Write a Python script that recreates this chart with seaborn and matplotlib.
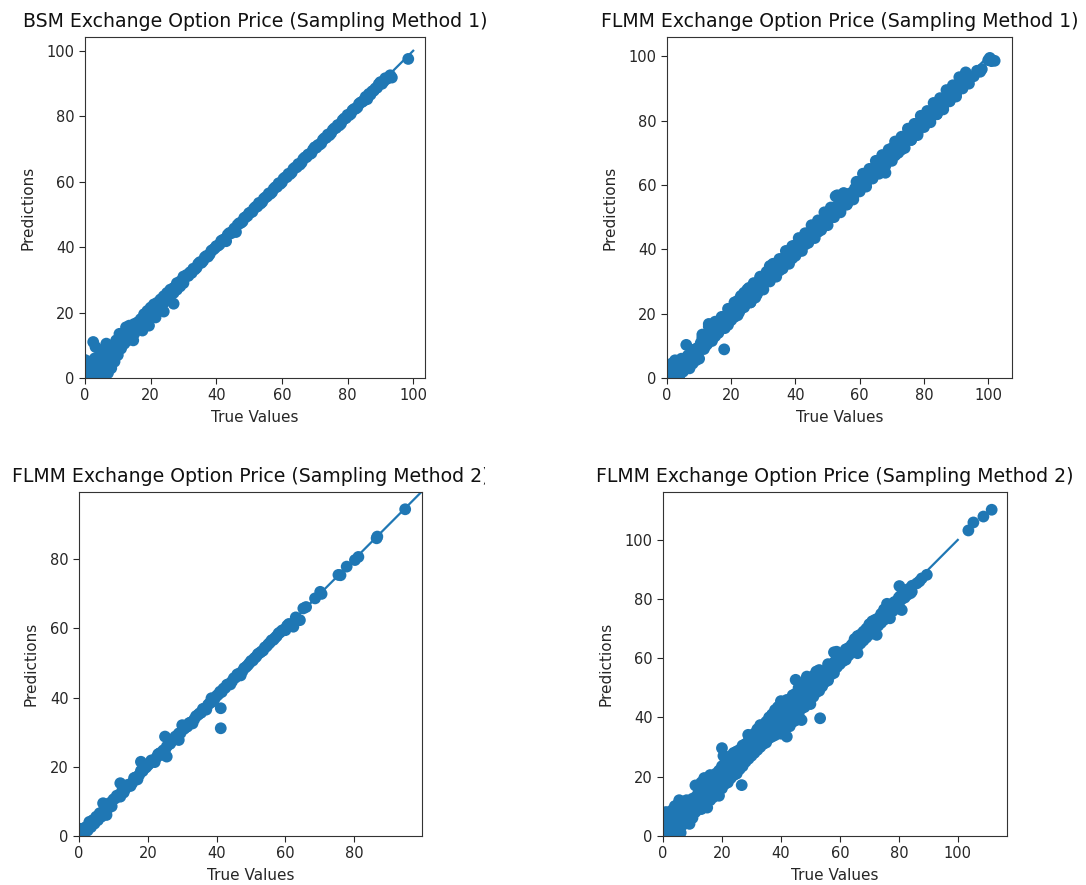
import matplotlib
matplotlib.use("Agg")
import matplotlib.pyplot as plt
from matplotlib.transforms import Bbox, TransformedBbox
import seaborn as sns

# ---------------------------------------------------------------------------
# Test-set true values and model predictions for each pricing model
# ---------------------------------------------------------------------------

# BSM exchange option, sampling method 1
bsm1_true = [
    0, 0, 0, 0, 0.6, 1, 1, 1.2, 1.8, 2, 2, 2.5, 3, 3, 3, 3.2, 4, 4, 4, 4.5,
    5, 5, 5, 5.5, 6, 6, 6, 6.5, 7, 7, 7, 7.5, 8, 8, 8.5, 9, 9, 9.5, 10, 10,
    10.5, 11, 11, 12, 12, 12.5, 13, 13, 13.5, 14, 14, 15, 15, 14.7, 16, 16, 17, 17,
    17.5, 18, 18, 19, 19, 19.5, 20, 20, 21, 21, 21.5, 22, 22, 23, 23, 24, 24,
    24, 25, 25, 26, 26, 27, 27, 27, 28, 28, 29, 29, 30, 30,
    10.5, 11.5, 12.5, 13.5, 14.5, 15.5, 16.5, 17.5, 18.5, 19.5, 20.5, 21.5,
    22.5, 23.5, 24.5, 25.5, 26.5, 27.5, 28.5, 29.5, 30.5,
    31, 31.5, 32, 32.5, 33, 33.5, 34, 34.5, 35, 35.5, 36, 36.5, 37, 37.5, 38,
    38.5, 39, 39.5, 40, 40.5, 41, 41.5, 42, 42.5, 43, 43.5, 44, 44.5, 45, 45.5,
    46, 46.5, 47, 47.5, 48, 48.5, 49, 49.5, 50, 50.5, 51, 51.5, 52, 52.5, 53,
    53.5, 54, 54.5, 55, 55.5, 56, 56.5, 57, 57.5, 58, 58.5, 59, 59.5, 60, 60.5,
    61, 61.5, 62, 62.5, 63, 63.5, 64, 64.5, 65, 65.5, 66, 66.5, 67, 67.5, 68,
    68.5, 69, 69.5, 70, 70.5, 71, 71.5, 72, 72.5, 73, 73.5, 74, 74.5, 75, 75.5,
    76, 76.5, 77, 77.5, 78, 78.5, 79, 79.5, 80, 80.5, 81, 81.5, 82, 82.5, 83,
    83.5, 84, 84.5, 85, 85.5, 86, 86.5, 87, 87.5, 88, 88.5, 89, 89.5, 90, 90.5,
    91, 91.5, 92,
    93, 93.5, 98.5,
]
bsm1_pred = [
    0, 2, 4, 5.5, 1, 0, 3, 5, 2, 0.5, 4, 11, 1.5, 3.5, 6, 9.5, 0, 2.5, 5, 8.5,
    1, 4, 6.5, 3, 0.5, 2.5, 5.5, 10.5, 1.5, 4.5, 7.5, 9.5, 3, 6, 9, 5, 8, 11.5, 7, 10,
    13.5, 9, 12, 10.5, 13, 15.5, 11.5, 14, 16, 12.5, 15, 13.5, 16.5, 11.5, 15, 17, 15.5, 18,
    14.5, 17, 19.5, 18, 20.5, 16, 19, 21.5, 20, 22.5, 18.5, 21, 23, 22, 24, 23, 25,
    20.3, 24.5, 26, 25, 27, 26, 27.5, 22.7, 27, 29, 28, 29.5, 29, 31,
    11, 11.8, 12.9, 13.7, 14.9, 15.8, 16.9, 17.7, 18.9, 19.8, 20.9, 21.7,
    22.8, 23.8, 24.9, 25.7, 26.8, 27.8, 28.9, 29.7, 30.8,
    31.5, 31.2, 32.3, 32.1, 33.4, 33.2, 33.7, 34.9, 35.4, 35.2, 35.8, 36.9, 37.3, 37.1, 37.8,
    38.9, 39.2, 39.6, 40.3, 40.4, 40.8, 41.9, 42.2, 42.4, 41.8, 43.8, 44.3, 44.2, 44.8, 45.7,
    44.6, 46.8, 47.3, 47.4, 47.8, 48.9, 49.2, 49.5, 50.4, 50.6, 50.8, 51.8, 52.3, 52.4, 53.5,
    53.3, 53.8, 54.8, 55.2, 55.5, 56.4, 56.3, 56.8, 57.8, 58.3, 58.4, 59.5, 59.3, 59.8, 60.9,
    61.3, 61.4, 62.4, 62.3, 62.8, 63.9, 64.3, 64.4, 65.4, 65.2, 65.8, 66.9, 67.4, 67.5, 68.3,
    68.4, 68.7, 69.8, 70.5, 70.4, 71.2, 71.3, 71.7, 72.8, 73.3, 73.4, 74.4, 74.2, 74.8, 75.8,
    76.3, 76.4, 77.3, 77.2, 77.7, 78.8, 79.3, 79.4, 80.4, 80.3, 80.7, 81.8, 82.2, 82.3, 82.7,
    83.8, 84.2, 84.4, 84.8, 85.9, 85.2, 86.8, 86.6, 87.6, 87.8, 88.5, 88.7, 89.8, 90.4, 89.9,
    90.6, 91.6, 91.4,
    92.5, 91.8, 97.5,
]

# FLMM exchange option, sampling method 1
flmm1_true = [
    0, 0, 0.5, 1, 1, 1.5, 2, 2, 2.5, 3, 3, 3.5, 4, 4, 4.5, 5, 5, 6, 6, 6.5,
    6.5, 7, 7, 7.5, 8, 8, 8.5, 9, 9, 9.5, 10, 10,
    11, 11.5, 12, 12.5, 13, 13, 13.5, 14, 14.5, 15, 15.5, 16, 16.5, 17, 17.8, 18,
    18.5, 19, 19.5, 20, 20.5, 21, 21.5, 22, 22.5, 23, 23.5, 24, 24.5, 25, 25.5, 26,
    26.5, 27, 27.5, 28, 28.5, 29, 29.5, 30,
    31, 32, 33, 34, 35, 36, 37, 38, 39, 40, 41, 42, 43, 44, 45, 46, 47, 48,
    49, 50, 51, 52, 53, 54, 55, 56, 57, 58, 59, 60, 61, 62, 63, 64, 65, 66,
    67, 68, 69, 70, 71, 72, 73, 74, 75, 76, 77, 78, 79, 80, 81, 82, 83, 84,
    85, 86, 87, 88, 89, 90, 91, 92, 93, 94,
    52.5, 53.5, 55, 56.5, 57.5,
    95.5, 96.5, 97.5, 98, 100, 101, 102, 100.5,
    0.5, 1.5, 2.5, 3.5, 4.5, 5.5, 6.5, 7.5, 8.5, 9.5, 10.5, 11.5, 12.5, 13.5,
    14.5, 15.5, 16.5, 17.5, 18.5, 19.5, 20.5, 21.5, 22.5, 23.5, 24.5, 25.5,
    26.5, 27.5, 28.5, 29.5, 30.5, 31.5, 32.5, 33.5, 34.5, 35.5, 36.5, 37.5,
    38.5, 39.5, 40.5, 41.5, 42.5, 43.5, 44.5, 45.5, 46.5, 47.5, 48.5, 49.5,
    50.5, 51.5, 52.5, 53.5, 54.5, 55.5, 56.5, 57.5, 58.5, 59.5, 60.5, 61.5,
    62.5, 63.5, 64.5, 65.5, 66.5, 67.5, 68.5, 69.5, 70.5, 71.5, 72.5, 73.5,
    74.5, 75.5, 76.5, 77.5, 78.5, 79.5, 80.5, 81.5, 82.5, 83.5, 84.5, 85.5,
    86.5, 87.5, 88.5, 89.5, 90.5, 91.5, 92.5, 93.5,
]
flmm1_pred = [
    0, 3.5, 1.5, 0.5, 3, 4.5, 1, 3.5, 5.5, 0.5, 2.5, 4.5, 1, 3.5, 6, 2, 5, 3.5, 10.3, 6.5,
    4.5, 3, 7, 5.5, 4.5, 8, 6.5, 5.5, 9, 7.5, 6, 9.5,
    12.5, 9, 13.5, 10.5, 16.8, 11.5, 14, 12, 15.5, 13, 17, 14.5, 16, 18.5, 8.9, 17,
    19.5, 16.5, 21, 18.5, 22, 19, 21.5, 24, 20.5, 25, 22, 26.5, 23, 24.5, 28, 23.5,
    27, 29, 25, 29.5, 27, 31, 28, 29,
    32.5, 34.8, 31.6, 35.2, 33.4, 37.1, 35.5, 38.9, 37.2, 41.3, 39.4, 43.0, 41.5, 45.1, 43.6, 47.2, 45.4, 48.8,
    47.3, 51.2, 49.8, 53.0, 56.8, 52.2, 56.5, 53.9, 57.4, 56.3, 59.5, 59.2, 61.4, 60.6, 64.3, 62.4, 66.0, 64.5,
    69.3, 63.8, 68.5, 71.4, 69.2, 72.8, 71.0, 74.6, 76.2, 74.0, 77.3, 76.2, 80.1, 78.3, 81.6, 80.5, 83.7, 82.0,
    85.8, 84.4, 87.5, 86.2, 89.6, 88.4, 90.8, 90.5, 92.6, 93.2,
    56.5, 55.5, 55, 56.8, 55.5,
    93.8, 95.5, 95.2, 96, 98.8, 98.5, 98.6, 99.5,
    0.8, 1.3, 2.9, 3.1, 4.6, 5.2, 7.0, 7.4, 8.8, 9.3, 10.9, 11.1, 12.6, 13.2,
    15.0, 15.4, 16.8, 17.3, 18.9, 19.1, 20.6, 21.2, 23.0, 23.4, 24.8, 25.3,
    26.9, 27.1, 28.6, 29.2, 31.0, 31.4, 32.8, 33.3, 34.9, 35.1, 36.6, 37.2,
    39.0, 39.4, 40.8, 41.3, 42.9, 43.1, 44.6, 45.2, 47.0, 47.4, 48.8, 49.3,
    50.9, 51.1, 52.6, 53.2, 55.0, 55.4, 56.8, 57.3, 58.9, 59.1, 60.6, 61.2,
    63.0, 63.4, 64.8, 65.3, 66.9, 67.1, 68.6, 69.2, 71.0, 71.4, 72.8, 73.3,
    74.9, 75.1, 76.6, 77.2, 79.0, 79.4, 80.8, 81.3, 82.9, 83.1, 84.6, 85.2,
    87.0, 87.4, 88.8, 89.3, 90.9, 91.1, 92.6, 93.2,
]
# FLMM sampling method 1: points along the upper and lower edge of the band
flmm1_edge_true = [
    11, 13, 15, 17, 19, 21, 23, 25, 27, 29, 31, 33, 35, 37, 39, 41, 43, 45, 47,
    49, 51, 55, 59, 61, 63, 65, 69, 71, 73, 75, 77, 79, 81, 83, 85, 87, 89, 91, 93,
    12, 14, 16, 18, 20, 22, 24, 26, 28, 30, 32, 34, 36, 38, 40, 42, 44, 46, 48,
    50, 52, 54, 56, 58, 60, 62, 64, 66, 68, 70, 72, 74, 76, 78, 80, 82, 84, 86,
    88, 90, 92, 94,
]
flmm1_edge_pred = [
    13.5, 16, 17.5, 19, 21.5, 23.5, 25.5, 27.5, 29.5, 31.5, 33, 35.5, 37, 39.5, 41, 43.5, 45, 47.5, 49,
    51.5, 53, 57.5, 61, 63.5, 65, 67.5, 71, 73.5, 75, 77.5, 79, 81.5, 83, 85.5, 87, 89.5, 91, 93.5, 95,
    10, 11.5, 14, 15.5, 18, 19.5, 22, 23.5, 26, 27.5, 30, 31.5, 34, 35.5, 38, 39.5, 42, 43.5, 46,
    47.5, 50, 51.5, 54, 55.5, 58, 59.5, 62, 63.5, 66, 67.5, 70, 71.5, 74, 75.5, 78, 79.5, 82, 83.5,
    86, 87.5, 90, 91.5,
]

# FLMM exchange option, sampling method 2 (first run)
flmm2a_true = [
    0, 0.5, 1, 1.5, 2, 2.5, 3, 3.5, 4, 4.5, 5, 5.5, 6, 6.5, 7, 7, 7.5, 8, 8.5, 9,
    9.5, 10,
    11, 12, 12, 13, 14, 15, 16, 17, 18, 18, 19, 20, 21, 22, 23, 24, 25, 25,
    25.5, 26, 27, 28, 29, 29, 30, 31, 32, 33, 34, 35, 36, 37, 38, 38.5, 39, 40,
    41, 41.2, 41.2, 42, 43, 44, 45, 46, 47, 48, 49, 50, 51, 52, 53, 54, 55, 56,
    57, 58, 59, 60, 61,
    10.5, 11.5, 12.5, 13.5, 14.5, 15.5, 16.5, 17.5, 18.5, 19.5, 20.5, 21.5,
    22.5, 23.5, 24.5, 25.5, 26.5, 27.5, 28.5, 29.5, 30.5, 31.5, 32.5, 33.5,
    34.5, 35.5, 36.5, 37.5, 38.5, 39.5, 40.5, 41.5, 42.5, 43.5, 44.5, 45.5,
    46.5, 47.5, 48.5, 49.5, 50.5, 51.5, 52.5, 53.5, 54.5, 55.5, 56.5, 57.5,
    58.5, 59.5, 60.5,
    62.3, 63, 64.2, 65.2, 66, 68.6, 70.1, 70.5, 75.4, 76, 77.8, 80.2, 81.2, 86.5,
    86.7, 94.8,
]
flmm2a_pred = [
    0.5, 2, 0.5, 1.5, 2.5, 1.5, 4, 2.5, 4.5, 3.5, 5.5, 4.5, 6.5, 5.5, 9.4, 7, 6.5, 6, 8, 9.5,
    8.5, 10.5,
    11.6, 11.3, 15.2, 12.5, 14.6, 14.4, 16.7, 16.3, 18.8, 21.4, 19.5, 20.4, 21.8, 21.3, 23.6, 23.4, 28.7, 24.8,
    22.9, 26.5, 27.4, 28.7, 27.7, 29.6, 32, 31.4, 32.6, 32.5, 34.6, 35.4, 36.7, 36.5, 38.4, 39.8, 38.9, 40.5,
    41.7, 36.9, 31.1, 42.6, 43.7, 43.8, 45.6, 46.7, 46.4, 48.5, 49.3, 50.6, 51.4, 52.6, 53.3, 54.5, 55.4, 56.6,
    57.3, 58.6, 59.4, 59.5, 61.3,
    10.8, 11.4, 12.9, 13.6, 14.8, 15.3, 16.9, 17.6, 18.7, 19.8, 20.9, 21.7,
    22.6, 23.9, 24.7, 25.8, 26.6, 27.9, 28.8, 29.7, 30.9, 31.6, 32.8, 33.7,
    34.9, 35.6, 36.8, 37.9, 38.7, 39.8, 40.9, 41.6, 42.8, 43.9, 44.7, 45.8,
    46.9, 47.6, 48.8, 49.9, 50.7, 51.8, 52.9, 53.6, 54.8, 55.9, 56.7, 57.8,
    58.9, 59.6, 60.8,
    60.5, 63.2, 62.4, 65.8, 66.2, 68.7, 70.6, 70, 75.5, 75.4, 77.9, 79.8, 80.7, 86.1,
    86.6, 94.5,
]

# FLMM exchange option, sampling method 2 (second run)
flmm2b_true = [
    0, 0, 0, 0, 0.5, 1, 1, 1, 1.5, 2, 2, 2, 2.5, 3, 3, 3, 3.5, 4, 4, 4,
    4.5, 5, 5, 5, 5.5, 6, 6, 6, 6.5, 7, 7, 7, 7.5, 8, 8, 8, 8.5, 9, 9, 9,
    9.5, 10, 10, 10,
    11, 11, 11, 12, 12, 13, 13, 13, 14, 14, 14, 15, 15, 15, 16, 16, 16, 17, 17, 17,
    18, 18, 18, 19, 19, 19, 20, 20, 20, 20, 20.5, 21, 21, 21, 22, 22, 22, 23, 23, 23,
    24, 24, 24, 25, 25, 25, 26, 26, 26, 26.7, 27, 27, 27, 28, 28, 28, 28.9, 29, 29, 29,
    30, 30, 30,
    31, 31, 31, 32, 32, 32, 33, 33, 33, 34, 34, 34, 35, 35, 35, 36, 36, 36, 37, 37, 37,
    38, 38, 38, 39, 39, 39, 40, 40, 40, 40, 41, 41, 41, 42, 42, 42, 42, 43, 43, 43,
    44, 44, 44, 45, 45, 45, 45, 46, 46, 46, 47, 47, 47, 47, 48, 48, 48, 48.8, 49, 49, 49,
    50, 50, 50, 51, 51, 51, 52, 52, 52, 53, 53, 53, 53.3, 54, 54, 54, 55, 55,
    56, 56, 56, 57, 57, 58, 58, 58, 58.9, 59, 59, 60, 60, 61, 61, 62, 62, 63, 63,
    64, 64, 65, 65, 66, 66, 66, 67, 67, 68, 68, 69, 69, 70, 70, 71, 71, 72, 72, 72.5,
    73, 73, 74, 74, 75, 75, 76, 76, 77, 77, 78, 78, 79, 79, 80, 80, 80.2, 81, 81,
    82, 83, 84, 84.4, 86.1, 87, 87.8, 89.5,
    0.5, 1.5, 2.5, 3.5, 4.5, 5.5, 6.5, 7.5, 8.5, 9.5, 10.5, 11.5, 12.5, 13.5,
    14.5, 15.5, 16.5, 17.5, 18.5, 19.5, 20.5, 21.5, 22.5, 23.5, 24.5, 25.5,
    26.5, 27.5, 28.5, 29.5, 30.5, 31.5, 32.5, 33.5, 34.5, 35.5, 36.5, 37.5,
    38.5, 39.5, 40.5, 41.5, 42.5, 43.5, 44.5, 45.5, 46.5, 47.5, 48.5, 49.5,
    50.5, 51.5, 52.5, 53.5, 54.5, 55.5, 56.5, 57.5, 58.5, 59.5, 60.5, 61.5,
    62.5, 63.5, 64.5, 65.5, 66.5, 67.5, 68.5, 69.5, 70.5, 71.5, 72.5, 73.5,
    74.5, 75.5, 76.5, 77.5, 78.5, 79.5, 80.5, 81.5, 82.5, 83.5, 84.5,
    103.6, 105.3, 108.7, 111.5,
]
flmm2b_pred = [
    0, 2.5, 5, 7.5, 1, 0, 4, 8, 2, 1, 5, 6.5, 3, 0, 3.5, 8.5, 6, 1.5, 5, 10,
    3, 2, 7, 10.5, 12, 1, 5.5, 9, 3.5, 4, 8, 11.5, 6, 4.5, 9, 12, 7, 4, 8, 11,
    6, 6, 9.5, 12.5,
    8, 13, 17, 10, 14.5, 9, 12, 18, 11.5, 16, 19.5, 9.5, 14, 18, 12, 17.5, 20.5, 13, 16, 19.5,
    14.5, 18, 21, 13.5, 17, 22, 16, 20, 23.5, 29.6, 27, 17.5, 21.5, 24.5, 18, 22.5, 25, 19.5, 23, 27,
    20.5, 24.5, 28, 21, 25, 28.5, 22.5, 26.5, 29, 17.1, 23.5, 27, 30.5, 25, 28.5, 31, 34.1, 26, 30, 32,
    27, 30.5, 33,
    28, 31.5, 34.5, 29, 32, 36, 30, 33.5, 37.4, 31, 35, 37, 31.5, 35.5, 38.5, 33, 37, 40, 33.5, 37.5, 41,
    34, 39, 42.5, 35, 40, 43.5, 34.5, 38.5, 42, 45.5, 36, 41, 44, 33.5, 38, 42.5, 45.9, 37, 41, 45,
    38.5, 43, 47.5, 39, 44, 48, 52.7, 41, 45.5, 50, 39.1, 43, 47, 51, 43.5, 48, 52, 53.8, 45, 49.5, 52.5,
    44.5, 50, 53, 47, 51.5, 54, 48.5, 52, 55.5, 49, 53.5, 56, 39.7, 50.5, 54, 55.5, 52, 55.5,
    52.5, 56.5, 58, 54.5, 57.5, 55, 58.5, 62, 62.2, 57, 60.5, 58, 61, 59, 61.5, 59.5, 63, 61, 63.5,
    62, 64.5, 62.5, 66.5, 61.7, 64, 67.5, 65, 68, 66, 69, 67, 70, 68, 71.5, 69.5, 72.5, 70, 73, 67.9,
    71, 73.5, 72, 75, 73, 76.5, 74.5, 78.4, 73.5, 77.4, 76, 78.5, 77, 79, 78, 80.5, 84.4, 76.3, 80,
    80.5, 81.5, 82, 82.5, 85.3, 86, 87, 88.2,
    1.5, 2.0, 3.5, 3.0, 5.5, 5.0, 7.5, 7.0, 9.5, 9.0, 11.5, 11.0, 13.5, 13.0,
    15.5, 15.0, 17.5, 17.0, 19.5, 19.0, 21.0, 21.5, 23.0, 23.5, 25.0, 25.5,
    27.0, 27.5, 29.0, 29.5, 31.0, 31.5, 33.0, 33.5, 35.0, 35.5, 37.0, 37.5,
    39.0, 39.5, 41.0, 41.5, 43.0, 43.5, 45.0, 45.5, 47.0, 47.5, 49.0, 49.5,
    51.0, 51.5, 53.0, 53.5, 55.0, 55.5, 57.0, 57.5, 59.0, 59.5, 61.0, 61.5,
    63.0, 63.5, 65.0, 65.5, 67.0, 67.5, 69.0, 69.5, 71.0, 71.5, 73.0, 73.5,
    75.0, 75.5, 77.0, 77.5, 79.0, 79.5, 81.0, 81.5, 83.0, 83.5, 84.5,
    103.2, 105.9, 107.9, 110.2,
]

# Reference line y = x
diag = [-100, 100]

titles = [
    "BSM Exchange Option Price (Sampling Method 1)",
    "FLMM Exchange Option Price (Sampling Method 1)",
    "FLMM Exchange Option Price (Sampling Method 2)",
    "FLMM Exchange Option Price (Sampling Method 2)",
]

# ---------------------------------------------------------------------------
# Figure layout: 2 x 2 square panels
# ---------------------------------------------------------------------------
W, H = 1086, 885
fig = plt.figure(figsize=(W / 100, H / 100), dpi=100)
fig.patch.set_facecolor("white")

blue = "#1f77b4"
ink = "#262626"

panels = [
    # (left, top, right, bottom) in pixels, x max, y max
    ((85, 37, 425, 378), 103.6, 104.2, bsm1_true, bsm1_pred),
    ((667, 37, 1012, 378), 107.4, 106.0,
     flmm1_true + flmm1_edge_true, flmm1_pred + flmm1_edge_pred),
    ((79, 492, 421.7, 835.7), 99.6, 99.5, flmm2a_true, flmm2a_pred),
    ((663, 492, 1006.7, 835.7), 116.6, 116.2, flmm2b_true, flmm2b_pred),
]

for i, ((l, t, r, b), xmax, ymax, tv, pv) in enumerate(panels):
    ax = fig.add_axes([l / W, 1 - b / H, (r - l) / W, (b - t) / H])
    sns.scatterplot(x=tv, y=pv, ax=ax, color=blue, s=72,
                    linewidth=0, edgecolor="none", legend=False)
    sns.lineplot(x=diag, y=diag, ax=ax, color=blue, linewidth=1.6,
                 legend=False)
    ax.set_xlim(0, xmax)
    ax.set_ylim(0, ymax)
    ax.tick_params(labelsize=10.5, colors=ink, length=4)
    for sp in ax.spines.values():
        sp.set_color("#333333")
    ax.set_xlabel("True Values", fontsize=11, color=ink, labelpad=5)
    ax.set_ylabel("Predictions", fontsize=11, color=ink, labelpad=8)
    title = ax.set_title(titles[i], fontsize=13.6, color="#111111", pad=7)
    if i == 2:
        # the long title is cut where the right-hand panel begins
        title.set_clip_box(TransformedBbox(Bbox.from_extents(0, 0, 485 / W, 1),
                                           fig.transFigure))
        title.set_clip_on(True)

fig.savefig("out.png", dpi=100, facecolor="white")
